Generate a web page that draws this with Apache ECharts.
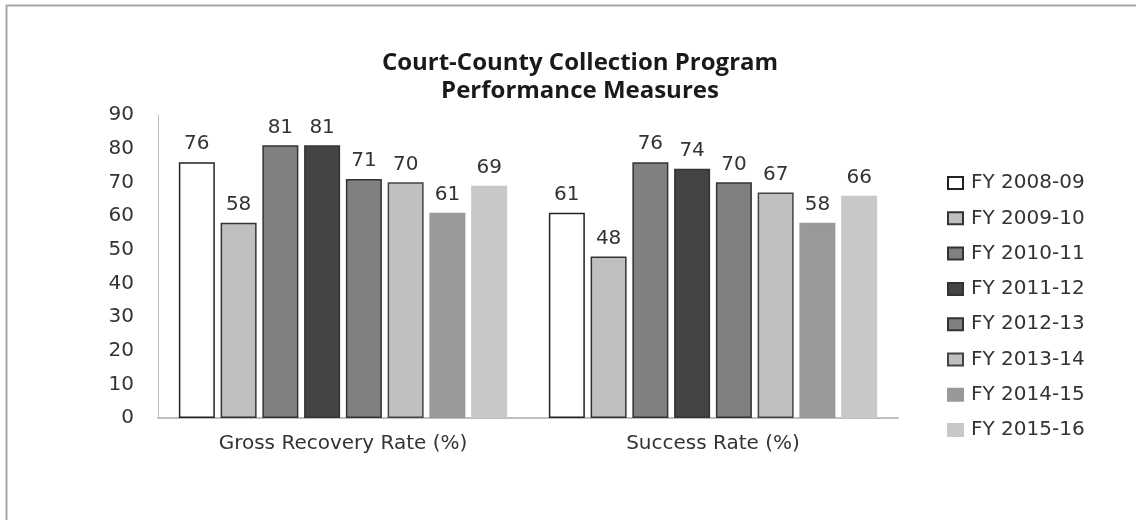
<!DOCTYPE html>
<html>
<head>
<meta charset="utf-8">
<script src="https://cdn.jsdelivr.net/npm/echarts@6/dist/echarts.min.js"></script>
<style>
html,body{margin:0;padding:0;background:#fff;}
#c{width:1136px;height:520px;}
</style>
</head>
<body>
<div id="c"></div>
<script>
const categories = ['Gross Recovery Rate (%)', 'Success Rate (%)'];
const seriesNames = ['FY 2008-09','FY 2009-10','FY 2010-11','FY 2011-12','FY 2012-13','FY 2013-14','FY 2014-15','FY 2015-16'];
const fy0809 = [76, 61];
const fy0910 = [58, 48];
const fy1011 = [81, 76];
const fy1112 = [81, 74];
const fy1213 = [71, 70];
const fy1314 = [70, 67];
const fy1415 = [61, 58];
const fy1516 = [69, 66];
const yTicks = [0, 10, 20, 30, 40, 50, 60, 70, 80, 90];

const seriesData = [fy0809, fy0910, fy1011, fy1112, fy1213, fy1314, fy1415, fy1516];
const fills = ['#ffffff', '#bfbfbf', '#808080', '#444444', '#808080', '#c0c0c0', '#999999', '#c8c8c8'];
const borders = ['#222222', '#333333', '#333333', '#333333', '#333333', '#444444', '#999999', '#c8c8c8'];

const FONT = 'DejaVu Sans';

const chart = echarts.init(document.getElementById('c'), null, {renderer: 'canvas'});
const option = {
  backgroundColor: '#ffffff',
  animation: false,
  graphic: [{
    type: 'rect',
    shape: {x: 6.5, y: 5.5, width: 1400, height: 800},
    style: {fill: 'none', stroke: '#a6a6a6', lineWidth: 2},
    silent: true, z: -10
  }],
  title: {
    text: 'Court-County Collection Program\nPerformance Measures',
    left: 575, top: 44, textAlign: 'center',
    textStyle: {fontFamily: 'Open Sans', fontWeight: 'bold', fontSize: 24, lineHeight: 28, color: '#1a1a1a'}
  },
  legend: {
    orient: 'vertical',
    left: 942, top: 168,
    itemWidth: 15, itemHeight: 12,
    itemGap: 15.3,
    icon: 'rect',
    textStyle: {fontFamily: FONT, fontSize: 20, color: '#333333', lineHeight: 14, padding: [0, 0, 0, 3]},
    data: seriesNames
  },
  grid: {left: 158, right: 238, top: 115, bottom: 102, containLabel: false},
  xAxis: {
    type: 'category',
    data: categories,
    axisLine: {lineStyle: {color: '#bfbfbf', width: 2}},
    axisTick: {show: false},
    axisLabel: {fontFamily: FONT, fontSize: 20, color: '#333333', margin: 16}
  },
  yAxis: {
    type: 'value',
    min: 0, max: 90, interval: 10,
    axisLine: {show: true, lineStyle: {color: '#bfbfbf', width: 1}},
    axisTick: {show: false},
    splitLine: {show: false},
    axisLabel: {fontFamily: FONT, fontSize: 20, color: '#333333', margin: 24,
      formatter: v => yTicks.includes(v) ? String(v) : ''}
  },
  series: seriesNames.map((name, i) => ({
    name: name,
    type: 'bar',
    data: seriesData[i],
    barWidth: 36,
    barGap: '16%',
    itemStyle: {color: fills[i], borderColor: borders[i], borderWidth: 1.5},
    label: {show: true, position: 'top', distance: 8, fontFamily: FONT, fontSize: 20, color: '#333333'}
  }))
};
chart.setOption(option);
</script>
</body>
</html>
